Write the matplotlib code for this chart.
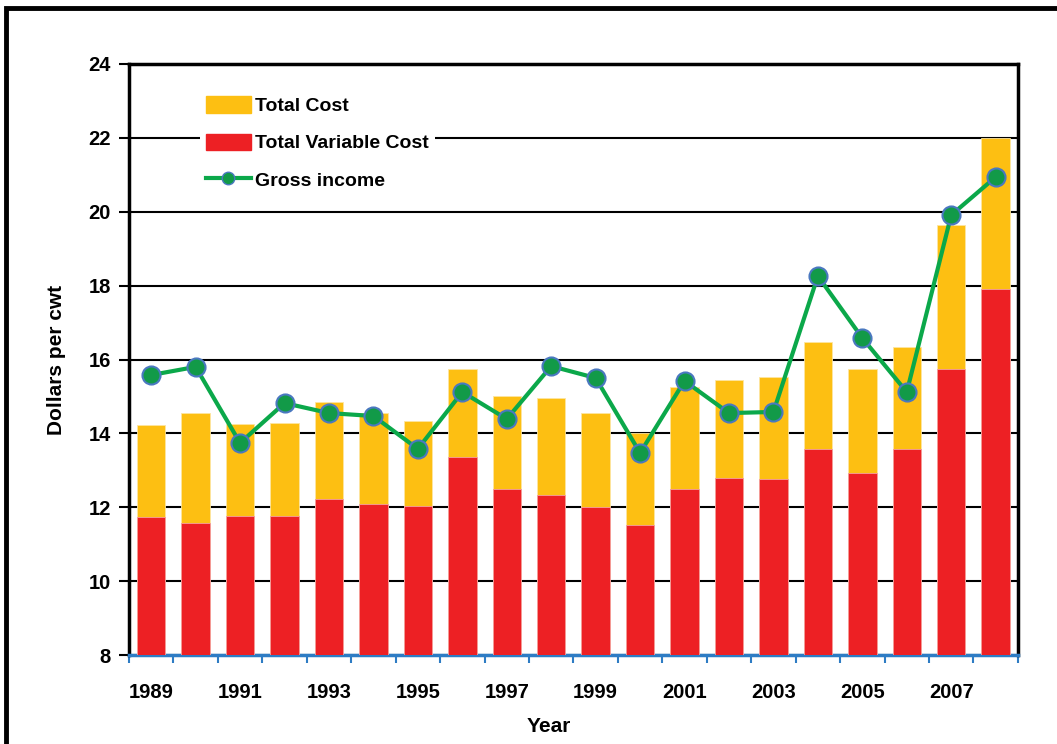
import numpy as np
import matplotlib.pyplot as plt
import matplotlib.patches as mpatches
from matplotlib.lines import Line2D
from matplotlib.ticker import FixedLocator

plt.rcParams['font.family'] = ['Liberation Sans', 'DejaVu Sans']
plt.rcParams['font.weight'] = 'bold'

years = list(range(1989, 2009))
total_cost = [14.23, 14.55, 14.25, 14.27, 14.85, 14.55, 14.33, 15.74, 15.0, 14.96,
              14.55, 14.0, 15.25, 15.44, 15.53, 16.47, 15.74, 16.34, 19.63, 22.0]
variable_cost = [11.74, 11.57, 11.76, 11.76, 12.22, 12.09, 12.03, 13.36, 12.49, 12.33,
                 12.0, 11.52, 12.49, 12.79, 12.76, 13.58, 12.93, 13.58, 15.73, 17.9]
gross_income = [15.58, 15.80, 13.74, 14.82, 14.55, 14.47, 13.58, 15.12, 14.39, 15.82,
                15.5, 13.47, 15.42, 14.55, 14.58, 18.26, 16.58, 15.12, 19.91, 20.94]

c_yellow = '#FDBF12'
c_red = '#ED2024'
c_green = '#0BA84A'
c_mark = '#129A48'
c_medge = '#4A78C0'

fig = plt.figure(figsize=(10.57, 7.44), dpi=100)
ax = fig.add_axes([0.122, 0.1196, 0.841, 0.7944])

x = np.arange(len(years))
ax.bar(x, total_cost, 0.64, color=c_yellow, edgecolor='#FDE6A0', linewidth=0.6, zorder=2)
ax.bar(x, variable_cost, 0.64, color=c_red, edgecolor='#F4A0A0', linewidth=0.6, zorder=3)
ax.plot(x, gross_income, color=c_green, linewidth=3, marker='o', markersize=13,
        markerfacecolor=c_mark, markeredgecolor=c_medge, markeredgewidth=1.5, zorder=4)

ax.set_xlim(-0.5, len(years) - 0.5)
ax.set_ylim(8, 24)
ax.set_yticks(np.arange(8, 25, 2))
ax.yaxis.grid(True, color='black', linewidth=1.5, zorder=1)
ax.set_axisbelow(True)

# year labels every other year, ticks at category edges
ax.set_xticks(x[::2])
ax.set_xticklabels([str(y) for y in years[::2]])
ax.xaxis.set_minor_locator(FixedLocator(np.arange(-0.5, len(years), 1)))
ax.tick_params(axis='x', which='major', length=0, pad=20, labelsize=14.5)
ax.tick_params(axis='x', which='minor', length=6, width=1.5, color='#2E7CC4', direction='out')
ax.tick_params(axis='y', length=7, width=1.5, labelsize=14.5, pad=6)

for s in ['left', 'right', 'top']:
    ax.spines[s].set_linewidth(2.5)
ax.spines['bottom'].set_color('#2E7CC4')
ax.spines['bottom'].set_linewidth(2.5)

ax.set_ylabel('Dollars per cwt', fontsize=15, fontweight='bold', labelpad=16)
fig.text(549 / 1057, 1 - 727 / 744, 'Year', fontsize=15, fontweight='bold', ha='center', va='center')

handles = [mpatches.Patch(color=c_yellow, label='Total Cost'),
           mpatches.Patch(color=c_red, label='Total Variable Cost'),
           Line2D([], [], color=c_green, linewidth=3, marker='o', markersize=9,
                  markerfacecolor=c_mark, markeredgecolor=c_medge, label='Gross income')]
leg = ax.legend(handles=handles, loc='upper left', bbox_to_anchor=(0.08, 0.955), fontsize=14,
                frameon=True, facecolor='white', edgecolor='white', framealpha=1,
                labelspacing=0.95, handlelength=2.3, handleheight=0.9, handletextpad=0.25,
                borderpad=0.3, borderaxespad=0)
leg.get_frame().set_linewidth(0)
leg.set_zorder(5)

# outer frame round the chart
fig.patches.append(mpatches.Rectangle((6 / 1057, -0.2), 1.2, 1.2 - 8 / 744,
                                      transform=fig.transFigure, fill=False,
                                      edgecolor='black', linewidth=3.5))

fig.savefig('out.png', dpi=100)
